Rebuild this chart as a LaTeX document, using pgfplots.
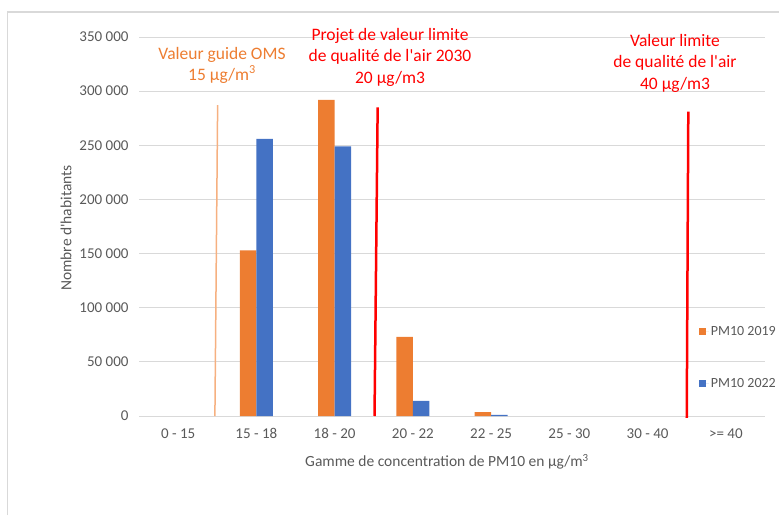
\documentclass[border=0pt]{standalone}
\usepackage{pgfplots}
\pgfplotsset{compat=1.18}
\usepackage{fontspec}
\setmainfont{Carlito}
\definecolor{xorange}{RGB}{237,125,49}
\definecolor{xblue}{RGB}{68,114,196}
\definecolor{xgrid}{RGB}{217,217,217}
\definecolor{xtext}{RGB}{89,89,89}
\definecolor{xlight}{RGB}{246,176,128}
\definecolor{xred}{RGB}{255,0,0}
\begin{document}
\begin{tikzpicture}
\useasboundingbox (0,0) rectangle (779pt,515pt);
\draw[xgrid, line width=1.2pt] (7.5pt,0pt) -- (7.5pt,503pt) -- (779pt,503pt);
\begin{axis}[
  at={(139pt,99pt)}, anchor=south west, scale only axis,
  width=626pt, height=379pt,
  xmin=-0.5, xmax=7.5, ymin=0, ymax=350000,
  clip=false,
  scaled y ticks=false,
  axis line style={draw=none},
  major tick length=0pt,
  xtick={0,...,7},
  xticklabels={{0 - 15},{15 - 18},{18 - 20},{20 - 22},{22 - 25},{25 - 30},{30 - 40},{>= 40}},
  ytick={0,50000,100000,150000,200000,250000,300000,350000},
  yticklabels={{0},{50 000},{100 000},{150 000},{200 000},{250 000},{300 000},{350 000}},
  ymajorgrids,
  grid style={xgrid, line width=1pt},
  tick label style={font=\fontsize{15}{18}\selectfont, text=xtext},
  yticklabel style={xshift=-7pt},
  xticklabel style={yshift=-9pt},
  xlabel={Gamme de concentration de PM10 en µg/m\textsuperscript{3}},
  ylabel={Nombre d\textquotesingle habitants},
  label style={font=\fontsize{15.5}{18}\selectfont, text=xtext},
  xlabel style={at={(axis description cs:0.492,-0.121)}, anchor=center},
  ylabel style={at={(axis description cs:-0.1166,0.496)}, anchor=center},
  legend style={at={(axis description cs:0.894,0.242)}, anchor=north west, draw=none, fill=none, inner sep=0pt, row sep=37pt, font=\fontsize{14}{17}\selectfont, text=xtext},
  legend cell align=left,
]
\addplot[ybar, bar width=16.5pt, bar shift=-8.25pt, fill=xorange, draw=none,
  legend image code/.code={\fill[xorange] (0pt,-3.5pt) rectangle (7pt,3.5pt); \path (0pt,0pt) -- (10pt,0pt);}]
  coordinates {(1,153000) (2,292000) (3,73000) (4,3500)};
\addlegendentry{PM10 2019}
\addplot[ybar, bar width=16.5pt, bar shift=8.25pt, fill=xblue, draw=none,
  legend image code/.code={\fill[xblue] (0pt,-3.5pt) rectangle (7pt,3.5pt); \path (0pt,0pt) -- (10pt,0pt);}]
  coordinates {(1,256000) (2,249000) (3,14000) (4,1000)};
\addlegendentry{PM10 2022}
\addplot[xlight, line width=1.5pt, forget plot] coordinates {(0.47,0) (0.505,287000)};
\addplot[xred, line width=2.5pt, forget plot] coordinates {(2.51,0) (2.55,285000)};
\addplot[xred, line width=2.5pt, forget plot] coordinates {(6.50,-1800) (6.52,281000)};
\end{axis}
\node[align=center, text=xorange, font=\fontsize{17.5}{21}\selectfont] at (222pt,450pt) {Valeur guide OMS\\15 µg/m\textsuperscript{3}};
\node[align=center, text=xred, font=\fontsize{17.5}{21.5}\selectfont] at (390pt,458pt) {Projet de valeur limite\\de qualité de l\textquotesingle air 2030\\20 µg/m3};
\node[align=center, text=xred, font=\fontsize{17.5}{21.5}\selectfont] at (675pt,452pt) {Valeur limite\\de qualité de l\textquotesingle air\\40 µg/m3};
\end{tikzpicture}
\end{document}
